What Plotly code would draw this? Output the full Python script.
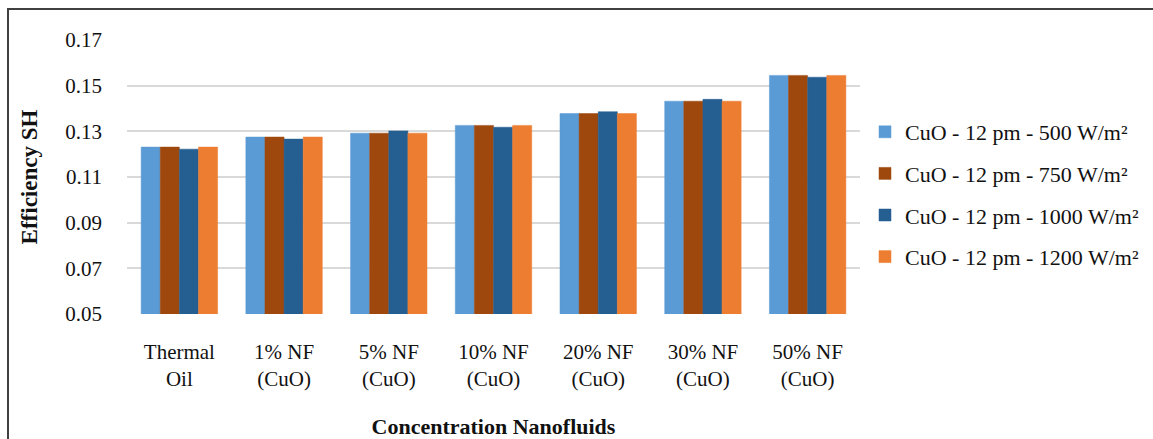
import plotly.graph_objects as go

categories = ["Thermal<br>Oil", "1% NF<br>(CuO)", "5% NF<br>(CuO)", "10% NF<br>(CuO)",
              "20% NF<br>(CuO)", "30% NF<br>(CuO)", "50% NF<br>(CuO)"]

series_names = ["CuO - 12 pm - 500 W/m²", "CuO - 12 pm - 750 W/m²",
                "CuO - 12 pm - 1000 W/m²", "CuO - 12 pm - 1200 W/m²"]

eff_500 = [0.1231, 0.1275, 0.1292, 0.1326, 0.1378, 0.1432, 0.1545]
eff_750 = [0.1231, 0.1275, 0.1292, 0.1326, 0.1378, 0.1432, 0.1545]
eff_1000 = [0.1222, 0.1266, 0.1302, 0.1318, 0.1386, 0.1440, 0.1537]
eff_1200 = [0.1231, 0.1275, 0.1292, 0.1326, 0.1378, 0.1432, 0.1545]

colors = ["#5B9BD5", "#9E480E", "#255E91", "#ED7D31"]
y_ticks = [0.05, 0.07, 0.09, 0.11, 0.13, 0.15, 0.17]

FONT = "Liberation Serif, Times New Roman, serif"
TXT = "#111111"

fig = go.Figure()
for i, (name, vals) in enumerate(zip(series_names, [eff_500, eff_750, eff_1000, eff_1200])):
    fig.add_trace(go.Bar(
        x=categories, y=vals, name=name,
        marker=dict(color=colors[i], line=dict(color=colors[i], width=0.5)),
        legendgroup=f"g{i}",
    ))

W, H = 1153, 439
L, R, T, B = 127, 293, 40, 125
pw, ph = W - L - R, H - T - B

def px_x(p):
    return (p - L) / pw

def px_y(p):
    return (H - B - p) / ph

fig.update_layout(
    width=W, height=H,
    margin=dict(l=L, r=R, t=T, b=B, autoexpand=False),
    paper_bgcolor="white", plot_bgcolor="white",
    barmode="group", bargap=0.27, bargroupgap=0.0,
    font=dict(family=FONT, size=21, color=TXT),
    showlegend=True,
    legend=dict(
        xref="container", yref="container",
        x=865 / W, y=1 - 111 / H, xanchor="left", yanchor="top",
        traceorder="grouped", tracegroupgap=10,
        font=dict(family=FONT, size=22, color=TXT),
        bgcolor="rgba(0,0,0,0)",
    ),
    xaxis=dict(
        automargin=False,
        showgrid=False, showline=False, zeroline=False,
        ticks="", ticklabelstandoff=23,
        tickfont=dict(family=FONT, size=21, color=TXT),
        title=dict(text="<b>Concentration Nanofluids</b>", standoff=30,
                   font=dict(family=FONT, size=22, color=TXT)),
    ),
    yaxis=dict(
        automargin=False,
        range=[0.05, 0.17], tickvals=y_ticks, ticktext=[f"{v:.2f}" for v in y_ticks],
        showgrid=True, gridcolor="#D9D9D9", gridwidth=1.5,
        zeroline=False, showline=False, ticks="", ticklabelstandoff=24,
        tickfont=dict(family=FONT, size=21, color=TXT),
        title=dict(text="<b>Efficiency SH</b>", standoff=21,
                   font=dict(family=FONT, size=23, color=TXT)),
    ),
    shapes=[dict(
        type="rect", xref="paper", yref="paper",
        x0=px_x(8), x1=px_x(1300), y0=px_y(500), y1=px_y(9),
        line=dict(color="#404040", width=2), fillcolor="rgba(0,0,0,0)", layer="above",
    )],
)

fig.write_html("out.html")
